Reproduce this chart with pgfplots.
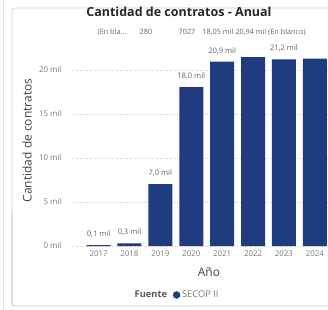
\documentclass[border=0pt]{standalone}
\usepackage{pgfplots}
\pgfplotsset{compat=1.18}
\usepackage{fontspec}
\setmainfont{Open Sans}
\definecolor{barblue}{HTML}{203C80}
\definecolor{ticktxt}{HTML}{7A7A7A}
\definecolor{lbltxt}{HTML}{666666}
\definecolor{axtxt}{HTML}{444444}
\begin{document}
\begin{tikzpicture}[x=1bp,y=1bp]
\useasboundingbox (0,0) rectangle (328,310);
\clip (0,0) rectangle (328,310);
\fill[white] (0,0) rectangle (328,310);
\draw[gray!25, line width=0.8bp] (3,0) -- (3,310);
\draw[gray!40, line width=0.7bp, rounded corners=3bp] (12,4) -- (12,302) -- (345,302);
\draw[gray!40, line width=0.7bp, rounded corners=3bp] (12,100) -- (12,4) -- (345,4);
\begin{axis}[
  at={(72bp,64bp)}, anchor=south west,
  scale only axis, width=258.3bp, height=193.6bp,
  xmin=-0.86, xmax=7.5, ymin=0, ymax=22,
  clip=false,
  axis line style={draw=none},
  major tick length=0pt,
  xtick={0,1,2,3,4,5,6,7},
  xticklabels={2017,2018,2019,2020,2021,2022,2023,2024},
  ytick={0,5,10,15,20},
  yticklabels={0 mil,5 mil,10 mil,15 mil,20 mil},
  ymajorgrids,
  major grid style={gray!40, line width=0.5bp, dash pattern=on 1bp off 1.5bp},
  ticklabel style={font=\fontsize{7.9bp}{8.5bp}\selectfont, text=ticktxt},
  yticklabel style={anchor=east, xshift=-7bp},
  xticklabel style={anchor=center, yshift=-7.5bp},
  xlabel={Año},
  xlabel style={at={(axis description cs:0.53,-0.135)}, anchor=center, font=\fontsize{12bp}{13bp}\selectfont, text=axtxt},
  ylabel={Cantidad de contratos},
  ylabel style={at={(axis description cs:-0.174,0.545)}, anchor=center, rotate=0, font=\fontsize{12bp}{13bp}\selectfont, text=axtxt},
  title={Cantidad de contratos - Anual},
  title style={at={(axis description cs:0.414,1.18)}, anchor=center, font=\bfseries\fontsize{12.5bp}{13bp}\selectfont, text=black!85},
  legend columns=2,
  legend style={at={(axis description cs:0.405,-0.253)}, anchor=center, draw=none, fill=none,
    font=\fontsize{9.3bp}{10bp}\selectfont, text=ticktxt,
    /tikz/every even column/.append style={column sep=4bp}},
  legend cell align=left,
]
\addplot[ybar, bar width=24bp, bar shift=0pt, fill=barblue, draw=none, forget plot]
  coordinates {(0,0.1) (1,0.3) (2,7.027) (3,18.05) (4,20.94) (5,21.45) (6,21.2) (7,21.3)};
\addplot[draw=none, forget plot, nodes near coords, point meta=explicit symbolic,
  nodes near coords style={anchor=center, yshift=11bp, inner sep=0pt, font=\fontsize{7.6bp}{8bp}\selectfont, text=lbltxt}]
  coordinates {(0,0.1)[{0,1 mil}] (1,0.3)[{0,3 mil}] (2,7.027)[{7,0 mil}] (3,18.05)[{18,0 mil}] (4,20.94)[{20,9 mil}] (6,21.2)[{21,2 mil}]};
\addlegendimage{empty legend}
\addlegendentry{\textcolor{axtxt!90}{\bfseries Fuente}}
\addlegendimage{only marks, mark=*, mark size=3.5bp, barblue}
\addlegendentry{SECOP II}
\end{axis}
\begin{scope}[every node/.style={font=\fontsize{7.3bp}{8bp}\selectfont, text=lbltxt, inner sep=0pt}]
\node at (112,278) {(En bla...};
\node at (146,278) {280};
\node at (187,278) {7027};
\node at (218,278) {18,05 mil};
\node at (251,278) {20,94 mil};
\node[anchor=west] at (268,278) {(En blanco)};
\end{scope}
\end{tikzpicture}
\end{document}
